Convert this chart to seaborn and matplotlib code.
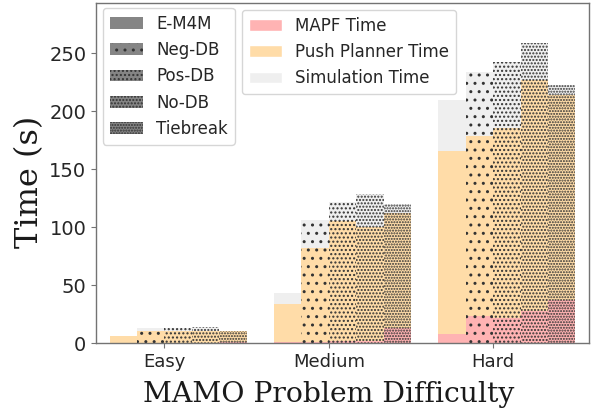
import numpy as np
import pandas as pd
import matplotlib
matplotlib.use('Agg')
import matplotlib.pyplot as plt
import matplotlib.patches as mpatches
import seaborn as sns

# Categories
difficulties = ['Easy', 'Medium', 'Hard']
methods = ['E-M4M', 'Neg-DB', 'Pos-DB', 'No-DB', 'Tiebreak']
hatches = ['', '..', '....', '.....', '......']

# Time components in seconds (rows: difficulty, columns: method)
mapf_time = [[0.2, 0.3, 0.3, 0.4, 0.8],
             [1.0, 1.5, 2.0, 2.0, 13.5],
             [7.8, 23.5, 21.5, 28.1, 37.4]]
push_time = [[6.0, 10.3, 10.5, 10.6, 9.5],
             [32.9, 80.5, 103.0, 98.0, 98.7],
             [157.6, 154.8, 164.0, 199.1, 176.9]]
sim_time = [[0.1, 2.4, 2.1, 3.4, 0.6],
            [9.2, 24.4, 17.2, 28.8, 8.0],
            [44.6, 55.7, 57.0, 31.7, 8.6]]

mapf_color = '#ffb3b3'
push_color = '#ffdca8'
sim_color = '#efefef'

# Build a long table with cumulative heights for stacking
rows = []
for i, d in enumerate(difficulties):
    for j, m in enumerate(methods):
        rows.append({'difficulty': d, 'method': m,
                     'mapf': mapf_time[i][j],
                     'push': push_time[i][j],
                     'sim': sim_time[i][j]})
df = pd.DataFrame(rows)
df['mid'] = df['mapf'] + df['push']
df['top'] = df['mid'] + df['sim']

sns.set_style('ticks')
plt.rcParams.update({
    'axes.edgecolor': '0.45',
    'axes.linewidth': 1.0,
    'xtick.major.size': 3.5,
    'ytick.major.size': 3.5,
    'xtick.color': '0.45',
    'ytick.color': '0.45',
    'xtick.labelcolor': '0.15',
    'ytick.labelcolor': '0.15',
    'hatch.linewidth': 1.0,
})

fig, ax = plt.subplots(figsize=(5.94, 4.12), dpi=100)
fig.subplots_adjust(left=0.1616, right=0.9916, bottom=0.1667, top=0.992)

group_w = 5 / 6
bar_w = group_w / len(methods)

# draw tallest layer first, then overlay lower cumulative layers
for col, color in [('top', sim_color), ('mid', push_color), ('mapf', mapf_color)]:
    n_before = len(ax.containers)
    sns.barplot(data=df, x='difficulty', y=col, hue='method',
                order=difficulties, hue_order=methods,
                palette={m: color for m in methods}, saturation=1,
                width=group_w, dodge=True, errorbar=None, legend=False, ax=ax)
    for cont, h in zip(ax.containers[n_before:], hatches):
        for bar in cont:
            bar.set_hatch(h)
            bar.set_edgecolor('0.2')
            bar.set_linewidth(0)

ax.set_xlim(-0.5, 2.5)
ax.set_ylim(0, 293)
ax.set_yticks([0, 50, 100, 150, 200, 250])
ax.set_xticks(np.arange(len(difficulties)) - bar_w / 2, difficulties)
ax.tick_params(axis='x', labelsize=13)
ax.tick_params(axis='y', labelsize=14)

ax.set_xlabel('MAMO Problem Difficulty', family='serif', fontsize=20.3, color='0.1')
ax.set_ylabel('Time (s)', family='serif', fontsize=23, color='0.1')
ax.xaxis.set_label_coords(0.4716, -0.112)
ax.yaxis.set_label_coords(-0.103, 0.4756)

method_handles = [mpatches.Patch(facecolor='#858585', edgecolor='0.2', linewidth=0,
                                 hatch=h, label=m) for m, h in zip(methods, hatches)]
leg1 = ax.legend(handles=method_handles, loc='upper left',
                 bbox_to_anchor=(0.0142, 0.986), borderaxespad=0, fontsize=12)
ax.add_artist(leg1)

time_handles = [mpatches.Patch(facecolor=mapf_color, label='MAPF Time'),
                mpatches.Patch(facecolor=push_color, label='Push Planner Time'),
                mpatches.Patch(facecolor=sim_color, label='Simulation Time')]
ax.legend(handles=time_handles, loc='upper left',
          bbox_to_anchor=(0.296, 0.980), borderaxespad=0, fontsize=12)

for side in ['top', 'right']:
    ax.spines[side].set_visible(True)

fig.savefig('out.png', dpi=100)
